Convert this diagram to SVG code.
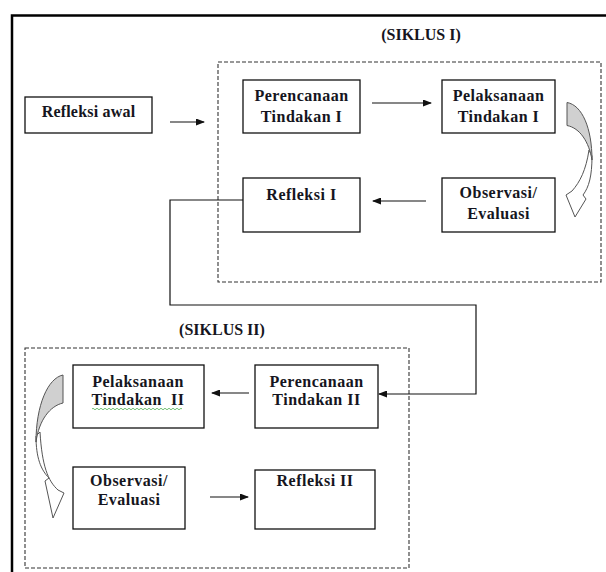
<svg xmlns="http://www.w3.org/2000/svg" width="606" height="572" viewBox="0 0 606 572">
<style>
.box{fill:#fff;stroke:#111;stroke-width:1.3}
.cyc{fill:none;stroke:#333;stroke-width:1.1;stroke-dasharray:4 2}
.t{font-family:"Liberation Serif","Times New Roman",serif;font-weight:bold;font-size:16px;fill:#151520;text-anchor:middle;letter-spacing:0.5px}
.ln{fill:none;stroke:#111;stroke-width:1.2}
.band{fill:#d0d0d0;stroke:#555;stroke-width:1}
.body{fill:#fff;stroke:#555;stroke-width:1}
</style>
<defs>
<marker id="ah" markerWidth="9" markerHeight="7" refX="8" refY="3.5" orient="auto" markerUnits="userSpaceOnUse">
<path d="M0,0 L9,3.5 L0,7 Z" fill="#111"/>
</marker>
</defs>
<rect width="606" height="572" fill="#fff"/>
<g id="frame">
<path d="M12,572 L12,15.5 L606,15.5" fill="none" stroke="#000" stroke-width="2.5"/>
</g>
<g id="siklus1">
<rect class="cyc" x="218" y="62" width="383" height="220"/>
<text class="t" x="421" y="40" style="letter-spacing:0">(SIKLUS I)</text>
</g>
<g id="siklus2">
<rect class="cyc" x="25" y="348" width="384" height="220"/>
<text class="t" x="222" y="335" style="letter-spacing:0">(SIKLUS II)</text>
</g>
<g id="refleksi-awal">
<rect class="box" x="25" y="97" width="127" height="36"/>
<text class="t" x="88.5" y="117" style="letter-spacing:0.2px">Refleksi awal</text>
</g>
<g id="perencanaan1">
<rect class="box" x="243" y="80" width="117" height="53"/>
<text class="t" x="301.5" y="101">Perencanaan</text>
<text class="t" x="301.5" y="122">Tindakan I</text>
</g>
<g id="pelaksanaan1">
<rect class="box" x="442" y="80" width="113" height="53"/>
<text class="t" x="498.5" y="101">Pelaksanaan</text>
<text class="t" x="498.5" y="122">Tindakan I</text>
</g>
<g id="refleksi1">
<rect class="box" x="243" y="178" width="117" height="54"/>
<text class="t" x="301.5" y="200">Refleksi I</text>
</g>
<g id="observasi1">
<rect class="box" x="442" y="178" width="113" height="54"/>
<text class="t" x="498.5" y="198">Observasi/</text>
<text class="t" x="498.5" y="219">Evaluasi</text>
</g>
<g id="pelaksanaan2">
<rect class="box" x="73" y="365" width="131" height="63"/>
<text class="t" x="138" y="387">Pelaksanaan</text>
<text class="t" x="138" y="405" xml:space="preserve">Tindakan  II</text>
<path d="M92,409 q1,-1.5 2,0 t2,0 t2,0 t2,0 t2,0 t2,0 t2,0 t2,0 t2,0 t2,0 t2,0 t2,0 t2,0 t2,0 t2,0 t2,0 t2,0 t2,0 t2,0 t2,0 t2,0 t2,0 t2,0 t2,0 t2,0 t2,0 t2,0 t2,0 t2,0 t2,0 t2,0 t2,0 t2,0 t2,0 t2,0 t2,0 t2,0 t2,0 t2,0 t2,0 t2,0 t2,0 t2,0 t2,0 t2,0" fill="none" stroke="#4caf50" stroke-width="0.8"/>
</g>
<g id="perencanaan2">
<rect class="box" x="255" y="365" width="123" height="63"/>
<text class="t" x="316.5" y="387">Perencanaan</text>
<text class="t" x="316.5" y="405">Tindakan II</text>
</g>
<g id="observasi2">
<rect class="box" x="73" y="467" width="112" height="62"/>
<text class="t" x="129" y="486">Observasi/</text>
<text class="t" x="129" y="505">Evaluasi</text>
</g>
<g id="refleksi2">
<rect class="box" x="255" y="470" width="120" height="59"/>
<text class="t" x="315" y="486">Refleksi II</text>
</g>
<g id="curved-arrows">
<path class="body" d="M592,156 C592,176 589,187 583,195 L586,199 L575,217 L566,195 L572,191 C580,182 586,170 589,150 Z"/>
<path class="band" d="M567,102.5 C582,105 592,128 592,160 C589,142 580,128 567,125.5 Z"/>
<path class="body" d="M36,436 C36,458 41,470 49,478 L45,481 L53,518 L64,493 L58,490 C48,481 42,466 40,432 Z"/>
<path class="band" d="M63,375 C48,378 36,405 36,442 C39,420 50,406 63,403 Z"/>
</g>
<g id="connectors">
<path class="ln" d="M170,122 L204,122" marker-end="url(#ah)"/>
<path class="ln" d="M372,103 L431,103" marker-end="url(#ah)"/>
<path class="ln" d="M426,201 L373,201" marker-end="url(#ah)"/>
<path class="ln" d="M243,200 L170,200 L170,305 L476,305 L476,394 L379,394" marker-end="url(#ah)"/>
<path class="ln" d="M249,393 L212,393" marker-end="url(#ah)"/>
<path class="ln" d="M210,497 L248,497" marker-end="url(#ah)"/>
</g>
</svg>
